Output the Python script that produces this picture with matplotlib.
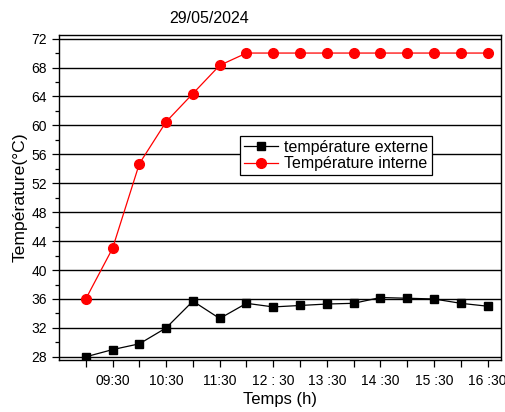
import matplotlib
matplotlib.use("Agg")
import matplotlib.pyplot as plt
from matplotlib.ticker import MultipleLocator

plt.rcParams["font.family"] = ["Liberation Sans", "DejaVu Sans"]

# heures (9h00 -> 16h30, pas de 30 min)
temps = [9.0, 9.5, 10.0, 10.5, 11.0, 11.5, 12.0, 12.5,
         13.0, 13.5, 14.0, 14.5, 15.0, 15.5, 16.0, 16.5]
t_externe = [28.0, 29.0, 29.8, 32.0, 35.7, 33.3, 35.4, 34.9,
             35.1, 35.3, 35.4, 36.2, 36.1, 36.0, 35.4, 35.0]
t_interne = [36.0, 43.0, 54.7, 60.5, 64.4, 68.3, 70.0, 70.0,
             70.0, 70.0, 70.0, 70.0, 70.0, 70.0, 70.0, 70.0]
tick_pos = [9.5, 10.5, 11.5, 12.5, 13.5, 14.5, 15.5, 16.5]
tick_lab = ["09:30", "10:30", "11:30", "12 : 30", "13 :30", "14 :30", "15 :30", "16 :30"]

fig = plt.figure(figsize=(5.06, 4.12), dpi=100)
ax = fig.add_axes([0.1166, 0.126, 0.8734, 0.79])

ax.plot(temps, t_externe, color="black", lw=0.9, marker="s", ms=6,
        label="température externe")
ax.plot(temps, t_interne, color="red", lw=0.9, marker="o", ms=7,
        label="Température interne")

ax.set_xlim(8.5, 16.75)
ax.set_ylim(27.55, 72.55)
ax.set_yticks(range(28, 73, 4))
ax.yaxis.set_minor_locator(MultipleLocator(2))
ax.set_xticks(tick_pos)
ax.set_xticklabels(tick_lab)
ax.set_xticks([9.0, 10.0, 11.0, 12.0, 13.0, 14.0, 15.0, 16.0], minor=True)

ax.grid(axis="y", color="black", lw=1.0)
ax.set_axisbelow(True)

ax.tick_params(axis="both", which="major", labelsize=10, direction="out", length=5, width=0.9)
ax.tick_params(axis="y", which="minor", direction="out", length=3, width=0.9)
ax.tick_params(axis="x", which="minor", direction="out", length=5, width=0.9)
ax.tick_params(axis="x", which="both", pad=5)
for s in ax.spines.values():
    s.set_linewidth(1.0)

ax.set_xlabel("Temps (h)", fontsize=12, labelpad=3)
ax.set_ylabel("Température(°C)", fontsize=12.6, labelpad=3)
fig.text(0.413, 0.955, "29/05/2024", fontsize=11.5, ha="center", va="center")

leg = ax.legend(loc="upper left", bbox_to_anchor=(0.4095, 0.689), fontsize=11.5,
                frameon=True, fancybox=False, edgecolor="black", framealpha=1,
                borderpad=0.25, handlelength=2.1, handletextpad=0.4,
                labelspacing=0.1, borderaxespad=0)
leg.get_frame().set_linewidth(0.9)

fig.savefig("out.png", dpi=100)
